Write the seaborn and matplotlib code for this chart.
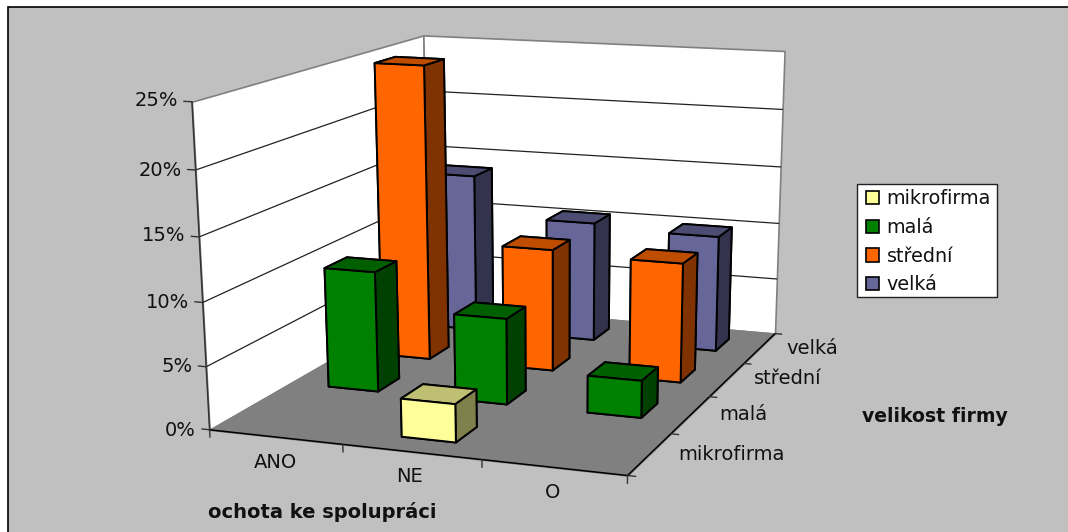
import numpy as np
import matplotlib
matplotlib.use('Agg')
import matplotlib.pyplot as plt
from matplotlib.patches import Patch, Rectangle
from matplotlib.colors import to_rgb
from mpl_toolkits.mplot3d.art3d import Poly3DCollection
import seaborn as sns

# data, in percent
ochota = ['ANO', 'NE', 'O']
velikost = ['mikrofirma', 'malá', 'střední', 'velká']
mikrofirma = [0, 3.0, 0]
mala = [9.9, 7.0, 3.0]
stredni = [24.9, 10.3, 10.0]
velka = [13.9, 10.45, 10.05]
z_ticks = [0, 5, 10, 15, 20, 25]

W, H = 1068, 532
Z_MAX = z_ticks[-1]
BAR = 0.395

sns.set_theme(style='white', rc={'font.family': 'DejaVu Sans', 'text.color': '#111111'})
paleta = sns.color_palette(['#FFFF99', '#008000', '#FF6600', '#666699'])

fig = plt.figure(figsize=(W / 100, H / 100), dpi=100, facecolor='white')


def pix(x, y):
    return x / W, 1 - y / H


# grey chart area
fig.patches.append(Rectangle(pix(8, 560), 1.1, (560 - 7) / H, transform=fig.transFigure,
                             facecolor='#C0C0C0', edgecolor='black', linewidth=1.2, zorder=-1))

# square axes as wide as the figure, mplot3d always keeps them square
ax = fig.add_axes([0, 0.5 - 0.5 * W / H, 1, W / H], projection='3d', computed_zorder=False)
ax.set_axis_off()
ax.set_facecolor('none')
nx, ny = len(ochota), len(velikost)

# camera: fit to the corners of the floor and walls (pixels of the picture)
rohy = [((0, 0, 0), (209.5, 431)), ((nx, 0, 0), (627, 475)), ((nx, ny, 0), (775, 334)),
        ((0, ny, 0), (429, 303)), ((0, 0, Z_MAX), (192.5, 101)), ((0, ny, Z_MAX), (422.5, 36)),
        ((nx, ny, Z_MAX), (785, 51))]
A, b = [], []
for (X, Y, Z), (px, py) in rohy:
    u, v = ax.transData.inverted().transform((px, H - py))
    A.append([X, Y, Z, 1, 0, 0, 0, 0, -u * X, -u * Y, -u * Z])
    A.append([0, 0, 0, 0, X, Y, Z, 1, -v * X, -v * Y, -v * Z])
    b += [u, v]
p = np.linalg.lstsq(np.array(A), np.array(b), rcond=None)[0]
# depth row has to stay negative, lines with positive depth are not drawn
M = np.array([[p[0], p[1], p[2], p[3]],
              [p[4], p[5], p[6], p[7]],
              [-0.4 / nx, 1 / ny, -0.3 / Z_MAX, -1.3],
              [p[8], p[9], p[10], 1]])
ax.get_proj = lambda: M

# walls and floor
sciany = [([(0, 0, 0), (0, ny, 0), (0, ny, Z_MAX), (0, 0, Z_MAX)], 'white'),
          ([(0, ny, 0), (nx, ny, 0), (nx, ny, Z_MAX), (0, ny, Z_MAX)], 'white'),
          ([(0, 0, 0), (nx, 0, 0), (nx, ny, 0), (0, ny, 0)], '#808080')]
for wall, barva in sciany:
    ax.add_collection3d(Poly3DCollection([wall], facecolor=barva, edgecolor='#808080',
                                         linewidth=1.2, zorder=0))

for z in z_ticks[1:-1]:
    ax.plot([0, 0], [0, ny], [z, z], color='#222222', lw=0.9, zorder=2)
    ax.plot([0, nx], [ny, ny], [z, z], color='#222222', lw=0.9, zorder=2)

# axis lines and ticks
ax.plot([0, 0], [0, 0], [0, Z_MAX], color='#333333', lw=1.1, zorder=2)
ax.plot([0, nx], [0, 0], [0, 0], color='black', lw=1.1, zorder=2)
ax.plot([nx, nx], [0, ny], [0, 0], color='black', lw=1.1, zorder=2)
for z in z_ticks:
    ax.plot([-0.06, 0], [0, 0], [z, z], color='#333333', lw=1.0, zorder=2)
for x in range(nx + 1):
    ax.plot([x, x], [0, 0], [0, -0.6], color='#333333', lw=1.0, zorder=2)
for y in range(ny + 1):
    ax.plot([nx, nx + 0.055], [y, y], [0, 0], color='#333333', lw=1.0, zorder=2)

# bars, back row first
rady = [mikrofirma, mala, stredni, velka]
poradi = 3
for j in range(ny - 1, -1, -1):
    c = np.array(to_rgb(paleta[j]))
    # faces: bottom, top, front, back, left, right
    barvy = [c * 0.5, c * 0.75, c, c, c * 0.5, c * 0.5]
    for i in range(nx):
        if rady[j][i] <= 0:
            continue
        ax.bar3d(i + 0.5 - BAR / 2, j + 0.5 - BAR / 2, 0, BAR, BAR, rady[j][i],
                 color=barvy, shade=False, edgecolor='black', linewidth=1.4, zorder=poradi)
        poradi += 1

# texts
F = 14
for z, tx, py in zip(z_ticks, [196, 192.8, 189, 185.6, 182, 178.5], [431, 367, 302, 236, 170, 101]):
    fig.text(*pix(tx, py), f'{z}%', ha='right', va='center', fontsize=F)
for lab, (tx, ty) in zip(ochota, [(275, 462), (410, 477), (553, 492)]):
    fig.text(*pix(tx, ty), lab, ha='center', va='center', fontsize=F)
for lab, (tx, ty) in zip(velikost, [(731, 454), (743, 415), (788, 379), (812.5, 348)]):
    fig.text(*pix(tx, ty), lab, ha='center', va='center', fontsize=F)
fig.text(*pix(322, 512), 'ochota ke spolupráci', ha='center', va='center', fontsize=14, fontweight='bold')
fig.text(*pix(935, 416), 'velikost firmy', ha='center', va='center', fontsize=13.6, fontweight='bold')

# legend
fig.patches.append(Rectangle(pix(857, 297), 140 / W, 113 / H, transform=fig.transFigure,
                             facecolor='white', edgecolor='#222222', linewidth=1.0, zorder=4))
handles = [Patch(facecolor=paleta[k], edgecolor='black', linewidth=1.2) for k in range(ny)]
leg = fig.legend(handles, velikost, loc='upper left', bbox_to_anchor=pix(866, 189.5), fontsize=13.8,
                 frameon=False, handlelength=0.68, handleheight=0.68, handletextpad=0.39,
                 labelspacing=0.5, borderpad=0, borderaxespad=0)

fig.savefig('out.png', dpi=100, facecolor='white')
